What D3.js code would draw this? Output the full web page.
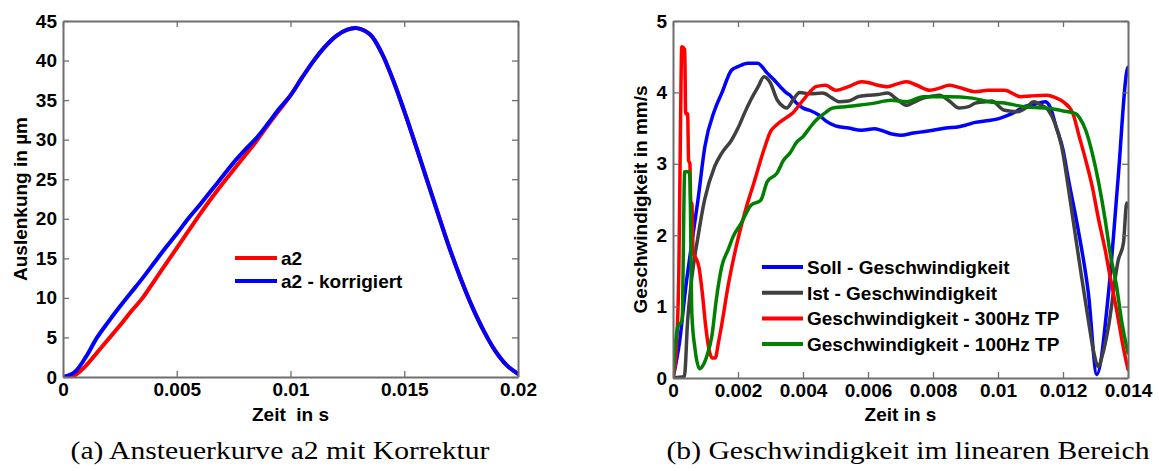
<!DOCTYPE html>
<html>
<head>
<meta charset="utf-8">
<script src="https://cdn.jsdelivr.net/npm/d3@7/dist/d3.min.js"></script>
<style>
  html, body { margin: 0; padding: 0; background: #fff; }
  svg { display: block; }
  .tick text { font-family: "Liberation Sans", Arial, sans-serif; font-weight: bold; font-size: 19px; fill: #000; }
  .lab { font-family: "Liberation Sans", Arial, sans-serif; font-weight: bold; font-size: 19px; fill: #000; }
  .cap { font-family: "Liberation Serif", "DejaVu Serif", serif; font-size: 25px; fill: #000; }
</style>
</head>
<body>
<svg id="fig" width="1159" height="471"></svg>
<script>
// ---------- (a) Ansteuerkurve a2 mit Korrektur ----------
const tA = [0, 0.0005, 0.001, 0.0015, 0.002, 0.0025, 0.003, 0.0035, 0.004, 0.0045, 0.005, 0.0055, 0.006, 0.0065, 0.007, 0.0075, 0.008, 0.0085, 0.009, 0.0095, 0.01, 0.0105, 0.011, 0.0115, 0.012, 0.0125, 0.0129, 0.0135, 0.014, 0.0145, 0.015, 0.0155, 0.016, 0.0165, 0.017, 0.0175, 0.018, 0.0185, 0.019, 0.0195, 0.02];
const a2 = [0, 0.2, 1.4, 3.1, 4.8, 6.5, 8.3, 10.0, 12.1, 14.2, 16.3, 18.4, 20.5, 22.5, 24.4, 26.2, 28.0, 29.8, 31.8, 33.7, 35.6, 37.8, 39.9, 41.7, 43.1, 43.9, 44.1, 43.3, 41.0, 37.6, 33.6, 29.3, 24.9, 20.5, 16.2, 12.3, 8.8, 5.8, 3.3, 1.5, 0.4];
const a2Korr = [0, 0.6, 2.5, 5.0, 7.0, 8.9, 10.7, 12.5, 14.4, 16.3, 18.1, 20.0, 21.7, 23.5, 25.3, 27.1, 28.7, 30.2, 32.0, 33.9, 35.6, 37.8, 39.9, 41.7, 43.1, 43.9, 44.1, 43.3, 41.0, 37.6, 33.6, 29.3, 24.9, 20.5, 16.2, 12.3, 8.8, 5.8, 3.3, 1.5, 0.4];
const xTicksA = [0, 0.005, 0.01, 0.015, 0.02];
const yTicksA = [0, 5, 10, 15, 20, 25, 30, 35, 40, 45];
const legendA = ["a2", "a2 - korrigiert"];

// ---------- (b) Geschwindigkeit im linearen Bereich ----------
const tSoll = [0, 0.0002, 0.0004, 0.00055, 0.00077, 0.00098, 0.00128, 0.0015, 0.0018, 0.002, 0.0023, 0.0026, 0.0029, 0.0031, 0.0033, 0.0035, 0.0036, 0.0038, 0.004, 0.0042, 0.0045, 0.0047, 0.005, 0.0054, 0.0058, 0.0062, 0.0064, 0.0067, 0.007, 0.0074, 0.0077, 0.008, 0.0084, 0.0088, 0.009, 0.0093, 0.0096, 0.01, 0.0102, 0.0105, 0.0108, 0.0111, 0.01145, 0.0116, 0.0118, 0.012, 0.01215, 0.01245, 0.01278, 0.01304, 0.0134, 0.0137, 0.01397, 0.014];
const vSoll = [0, 0.5, 1.3, 1.8, 2.5, 3.24, 3.75, 3.99, 4.31, 4.36, 4.41, 4.41, 4.27, 4.18, 4.08, 3.99, 3.96, 3.85, 3.78, 3.75, 3.68, 3.6, 3.53, 3.5, 3.47, 3.49, 3.47, 3.42, 3.4, 3.43, 3.45, 3.47, 3.5, 3.52, 3.54, 3.58, 3.6, 3.63, 3.66, 3.72, 3.8, 3.83, 3.87, 3.8, 3.5, 3.2, 2.82, 2.12, 1.19, 0.05, 1.19, 2.82, 4.31, 4.35];

const tIst = [0, 0.00035, 0.00045, 0.00057, 0.00077, 0.00097, 0.00128, 0.0015, 0.0018, 0.002, 0.0022, 0.0024, 0.00262, 0.0028, 0.003, 0.0032, 0.0034, 0.0035, 0.0037, 0.0039, 0.0042, 0.0046, 0.0049, 0.0051, 0.0054, 0.0057, 0.006, 0.0063, 0.0066, 0.0069, 0.0072, 0.0074, 0.0077, 0.008, 0.0082, 0.0085, 0.0088, 0.0091, 0.0093, 0.0096, 0.0098, 0.0102, 0.0106, 0.0109, 0.0111, 0.0113, 0.01155, 0.01175, 0.01196, 0.01216, 0.01237, 0.01257, 0.01278, 0.01295, 0.01309, 0.0132, 0.0134, 0.0137, 0.01386, 0.01396, 0.014];
const vIst = [0, 0.02, 0.8, 1.37, 1.98, 2.49, 2.96, 3.15, 3.33, 3.5, 3.71, 3.9, 4.08, 4.22, 4.13, 3.9, 3.8, 3.78, 3.9, 4.0, 3.98, 3.99, 3.92, 3.87, 3.88, 3.94, 3.96, 3.97, 3.99, 3.9, 3.82, 3.86, 3.92, 3.95, 3.96, 3.88, 3.78, 3.8, 3.85, 3.87, 3.88, 3.75, 3.73, 3.8, 3.87, 3.83, 3.75, 3.57, 3.24, 2.68, 2.03, 1.42, 0.81, 0.35, 0.16, 0.3, 0.72, 1.65, 1.89, 2.45, 2.4];

const tTP300 = [0, 0.0001, 0.00018, 0.00023, 0.00027, 0.00036, 0.00039, 0.00045, 0.00048, 0.00052, 0.00055, 0.00058, 0.00062, 0.00068, 0.0008, 0.0009, 0.001, 0.0011, 0.0012, 0.0013, 0.0014, 0.0015, 0.0017, 0.0019, 0.0022, 0.0025, 0.0028, 0.003, 0.0032, 0.0035, 0.0037, 0.004, 0.0042, 0.0044, 0.0047, 0.005, 0.0054, 0.0058, 0.006, 0.0063, 0.0066, 0.0069, 0.0072, 0.0075, 0.0079, 0.0082, 0.0085, 0.0088, 0.0093, 0.0097, 0.0102, 0.0107, 0.011, 0.0115, 0.0118, 0.012, 0.0123, 0.0125, 0.0127, 0.0129, 0.0131, 0.0133, 0.01345, 0.01365, 0.01385, 0.014];
const vTP300 = [0, 0.4, 1.5, 3.5, 4.64, 4.6, 3.7, 3.7, 3.05, 3.0, 2.4, 2.45, 1.75, 1.7, 1.55, 1.2, 0.75, 0.42, 0.28, 0.28, 0.5, 0.75, 1.3, 1.75, 2.3, 2.75, 3.2, 3.45, 3.55, 3.65, 3.72, 3.89, 4.0, 4.08, 4.1, 4.03, 4.08, 4.15, 4.14, 4.1, 4.08, 4.12, 4.15, 4.1, 4.03, 4.06, 4.1, 4.07, 4.01, 4.03, 4.03, 3.94, 3.95, 3.96, 3.92, 3.87, 3.71, 3.38, 3.05, 2.68, 2.21, 1.79, 1.42, 0.95, 0.44, 0.12];

const tTP100 = [0, 0.00008, 0.00015, 0.00028, 0.00036, 0.0005, 0.00052, 0.00058, 0.00068, 0.00082, 0.00095, 0.00105, 0.0012, 0.00133, 0.0015, 0.0017, 0.00185, 0.0021, 0.0024, 0.0027, 0.0029, 0.0032, 0.0034, 0.0036, 0.0038, 0.004, 0.0042, 0.0044, 0.0047, 0.0049, 0.0053, 0.0057, 0.0062, 0.0067, 0.0072, 0.0077, 0.0085, 0.0092, 0.0097, 0.0102, 0.0108, 0.0115, 0.012, 0.0124, 0.0125, 0.0127, 0.0129, 0.0131, 0.0133, 0.01345, 0.01365, 0.0138, 0.014];
const vTP100 = [0, 0.5, 0.72, 0.8, 2.89, 2.89, 2.8, 0.9, 0.4, 0.13, 0.2, 0.32, 0.6, 1.09, 1.56, 1.8, 1.98, 2.17, 2.42, 2.49, 2.75, 2.87, 3.05, 3.15, 3.3, 3.38, 3.5, 3.61, 3.72, 3.78, 3.8, 3.82, 3.85, 3.89, 3.87, 3.94, 3.94, 3.92, 3.87, 3.85, 3.8, 3.78, 3.74, 3.7, 3.65, 3.47, 3.15, 2.73, 2.21, 1.75, 1.28, 0.81, 0.35];

const xTicksB = [0, 0.002, 0.004, 0.006, 0.008, 0.01, 0.012, 0.014];
const yTicksB = [0, 1, 2, 3, 4, 5];
const legendB = ["Soll - Geschwindigkeit", "Ist - Geschwindigkeit", "Geschwindigkeit - 300Hz TP", "Geschwindigkeit - 100Hz TP"];

const captions = ["(a) Ansteuerkurve a2 mit Korrektur", "(b) Geschwindigkeit im linearen Bereich"];

const svg = d3.select("#fig");
svg.append("rect").attr("width", 1159).attr("height", 471).attr("fill", "#fff");

const fmt = d3.format("~g");
const axisColor = "#6e6e6e";

function panel(opt) {
  const g = svg.append("g");
  const x = d3.scaleLinear().domain(opt.xDomain).range([opt.left, opt.right]);
  const y = d3.scaleLinear().domain(opt.yDomain).range([opt.bottom, opt.top]);

  const clipId = "clip" + opt.id;
  svg.append("clipPath").attr("id", clipId).append("rect")
    .attr("x", opt.left).attr("y", opt.top - 2)
    .attr("width", opt.right - opt.left).attr("height", opt.bottom - opt.top + 2);

  const line = d3.line().x(d => x(d[0])).y(d => y(d[1])).curve(opt.curve);
  const lg = g.append("g").attr("clip-path", `url(#${clipId})`);
  opt.series.forEach(s => {
    lg.append("path")
      .datum(s.t.map((t, i) => [t, s.v[i]]))
      .attr("fill", "none")
      .attr("stroke", s.color)
      .attr("stroke-width", opt.lineWidth)
      .attr("stroke-linejoin", "round")
      .attr("stroke-linecap", "round")
      .attr("d", line);
  });

  // box axes with inward ticks
  const ax = [
    [d3.axisBottom(x).tickValues(opt.xTicks).tickFormat(fmt), `translate(0,${opt.bottom})`, true],
    [d3.axisTop(x).tickValues(opt.xTicks).tickFormat(""), `translate(0,${opt.top})`, false],
    [d3.axisLeft(y).tickValues(opt.yTicks).tickFormat(fmt), `translate(${opt.left},0)`, true],
    [d3.axisRight(y).tickValues(opt.yTicks).tickFormat(""), `translate(${opt.right},0)`, false]
  ];
  ax.forEach(([a, tr, labelled]) => {
    a.tickSizeInner(-6).tickSizeOuter(0).tickPadding(labelled ? 6 : 0);
    const ag = g.append("g").attr("transform", tr).call(a);
    ag.select(".domain").attr("stroke", axisColor).attr("stroke-width", 2);
    ag.selectAll(".tick line").attr("stroke", axisColor).attr("stroke-width", 1.3);
    ag.attr("font-family", null).attr("font-size", null);
  });

  g.append("text").attr("class", "lab")
    .attr("x", (opt.left + opt.right) / 2).attr("y", 421)
    .attr("text-anchor", "middle").attr("xml:space", "preserve")
    .text(opt.xLabel);
  g.append("text").attr("class", "lab")
    .attr("transform", `translate(${opt.yLabelX},${(opt.top + opt.bottom) / 2}) rotate(-90)`)
    .attr("text-anchor", "middle")
    .text(opt.yLabel);

  // legend
  const leg = g.append("g");
  opt.series.forEach((s, i) => {
    const ly = opt.legend.y + i * opt.legend.dy;
    leg.append("line")
      .attr("x1", opt.legend.x1).attr("x2", opt.legend.x2)
      .attr("y1", ly).attr("y2", ly)
      .attr("stroke", s.color).attr("stroke-width", 4);
    leg.append("text").attr("class", "lab")
      .attr("x", opt.legend.x2 + 4).attr("y", ly + 7)
      .text(s.name);
  });

  return g.append("text").attr("class", "cap")
    .attr("y", 459)
    .attr("text-anchor", "middle")
    .text(opt.caption);
}

const capA = panel({
  id: "A",
  left: 63, right: 518, top: 21, bottom: 377,
  xDomain: [0, 0.02], yDomain: [0, 45],
  xTicks: xTicksA, yTicks: yTicksA,
  lineWidth: 4,
  curve: d3.curveCatmullRom.alpha(0.5),
  series: [
    { name: legendA[0], t: tA, v: a2, color: "#ff0000" },
    { name: legendA[1], t: tA, v: a2Korr, color: "#0000ff" }
  ],
  xLabel: "Zeit  in s", yLabel: "Auslenkung in µm", yLabelX: 27,
  legend: { x1: 235, x2: 277, y: 258, dy: 23 },
  caption: captions[0]
});

const capB = panel({
  id: "B",
  left: 673, right: 1128, top: 21, bottom: 378,
  xDomain: [0, 0.014], yDomain: [0, 5],
  xTicks: xTicksB, yTicks: yTicksB,
  lineWidth: 3.5,
  curve: d3.curveMonotoneX,
  series: [
    { name: legendB[0], t: tSoll, v: vSoll, color: "#0000ff" },
    { name: legendB[1], t: tIst, v: vIst, color: "#404040" },
    { name: legendB[2], t: tTP300, v: vTP300, color: "#ff0000" },
    { name: legendB[3], t: tTP100, v: vTP100, color: "#008000" }
  ],
  xLabel: "Zeit in s", yLabel: "Geschwindigkeit in mm/s", yLabelX: 647,
  legend: { x1: 762, x2: 803, y: 267, dy: 25.7 },
  caption: captions[1]
});

// captions share one horizontal stretch so both read in the same type size
const wB = 483;
const stretch = wB / capB.node().getComputedTextLength();
const wA = capA.node().getComputedTextLength() * stretch;
capB.attr("x", 908).attr("textLength", wB).attr("lengthAdjust", "spacingAndGlyphs");
capA.attr("x", 280).attr("textLength", wA).attr("lengthAdjust", "spacingAndGlyphs");
</script>
</body>
</html>
